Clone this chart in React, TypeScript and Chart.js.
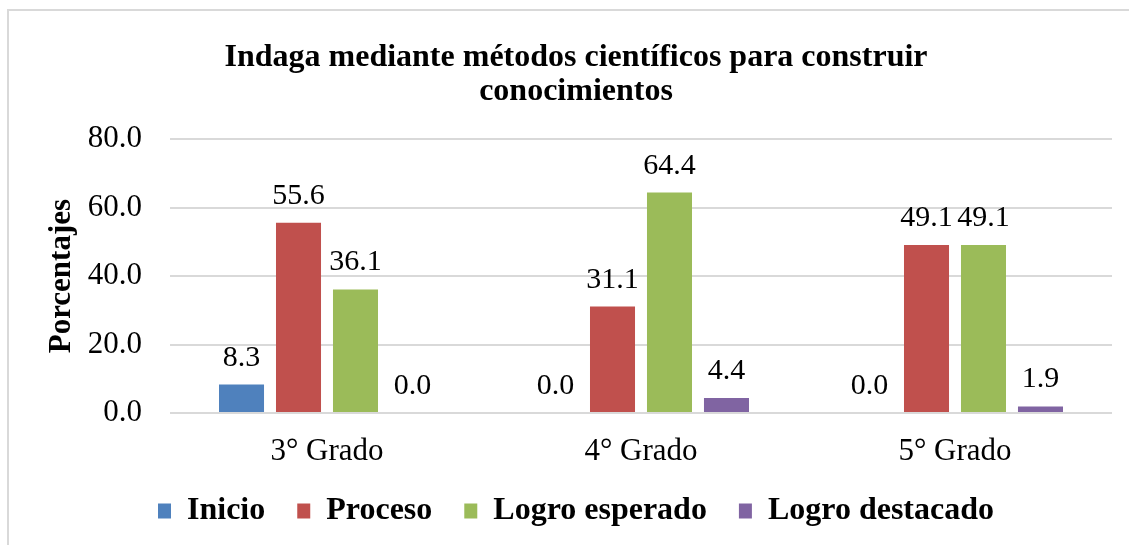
import React, { useEffect, useRef } from "react";
import { Chart, registerables } from "chart.js";

Chart.register(...registerables);

const titleLines = ["Indaga mediante métodos científicos para construir", "conocimientos"];
const categories = ["3° Grado", "4° Grado", "5° Grado"];
const seriesNames = ["Inicio", "Proceso", "Logro esperado", "Logro destacado"];
const inicio = [8.3, 0.0, 0.0];
const proceso = [55.6, 31.1, 49.1];
const logroEsperado = [36.1, 64.4, 49.1];
const logroDestacado = [0.0, 4.4, 1.9];
const seriesColors = ["#4F81BD", "#C0504D", "#9BBB59", "#8064A2"];
const yTitle = "Porcentajes";

const FONT = "'Liberation Serif', 'Times New Roman', serif";

const dataLabelPlugin = {
  id: "dataLabels",
  afterDatasetsDraw(chart: any) {
    const ctx = chart.ctx;
    ctx.save();
    ctx.font = `30px ${FONT}`;
    ctx.fillStyle = "#000";
    ctx.textAlign = "center";
    ctx.textBaseline = "alphabetic";
    chart.data.datasets.forEach((ds: any, di: number) => {
      const meta = chart.getDatasetMeta(di);
      meta.data.forEach((bar: any, i: number) => {
        const v = ds.data[i];
        ctx.fillText(Number(v).toFixed(1), bar.x, bar.y - 19);
      });
    });
    ctx.restore();
  },
};

const layoutTweakPlugin = {
  id: "layoutTweak",
  beforeLayout(chart: any) {
    const lg = chart.legend;
    if (lg && !lg.__patched) {
      const orig = lg.fit.bind(lg);
      lg.fit = function () {
        orig();
        this.height = 82;
      };
      lg.__patched = true;
    }
  },
  afterLayout(chart: any) {
    const x = chart.scales.x;
    if (x) x.bottom += 30;
  },
};

export default function App() {
  const ref = useRef<HTMLCanvasElement>(null);
  useEffect(() => {
    const values = [inicio, proceso, logroEsperado, logroDestacado];
    const chart = new Chart(ref.current as HTMLCanvasElement, {
      type: "bar",
      data: {
        labels: categories,
        datasets: seriesNames.map((name, k) => ({
          label: name,
          data: values[k],
          backgroundColor: seriesColors[k],
          borderWidth: 0,
          categoryPercentage: 0.726,
          barPercentage: 0.79,
        })),
      },
      plugins: [dataLabelPlugin, layoutTweakPlugin],
      options: {
        responsive: false,
        animation: false,
        devicePixelRatio: 1,
        layout: { padding: { left: 40, right: 17, top: 0, bottom: 0 } },
        plugins: {
          title: {
            display: true,
            text: titleLines,
            color: "#000",
            font: { family: FONT, size: 32, weight: "bold", lineHeight: 1.05 },
            padding: { top: 41, bottom: 31 },
          },
          legend: {
            display: true,
            position: "bottom",
            labels: {
              color: "#000",
              font: { family: FONT, size: 32, weight: "bold" },
              boxWidth: 13,
              boxHeight: 15,
              padding: 32,
            },
          },
          tooltip: { enabled: false },
        },
        scales: {
          x: {
            grid: { display: false, drawTicks: false },
            border: { display: false },
            ticks: { color: "#000", font: { family: FONT, size: 31 }, padding: 20 },
            afterFit(scale: any) {
              scale.height = 50;
            },
          },
          y: {
            min: 0,
            max: 80,
            grid: { color: "#d9d9d9", lineWidth: 2, drawTicks: false },
            border: { display: false },
            ticks: {
              stepSize: 20,
              color: "#000",
              font: { family: FONT, size: 31 },
              padding: 28,
              callback: (v: any) => Number(v).toFixed(1),
            },
            title: {
              display: true,
              text: yTitle,
              color: "#000",
              font: { family: FONT, size: 31, weight: "bold", lineHeight: 1.2 },
              padding: { top: 3, bottom: 0 },
            },
            afterFit(scale: any) {
              scale.width = 130;
            },
          },
        },
      },
    } as any);
    return () => chart.destroy();
  }, []);

  return (
    <div style={{ position: "fixed", left: 0, top: 0, width: 1129, height: 545, background: "#fff", overflow: "hidden" }}>
      <div
        style={{
          position: "absolute",
          left: 7,
          top: 9,
          width: 1200,
          height: 600,
          border: "2px solid #d9d9d9",
          boxSizing: "border-box",
        }}
      />
      <canvas ref={ref} width={1129} height={545} style={{ position: "absolute", left: 0, top: 0 }} />
    </div>
  );
}
